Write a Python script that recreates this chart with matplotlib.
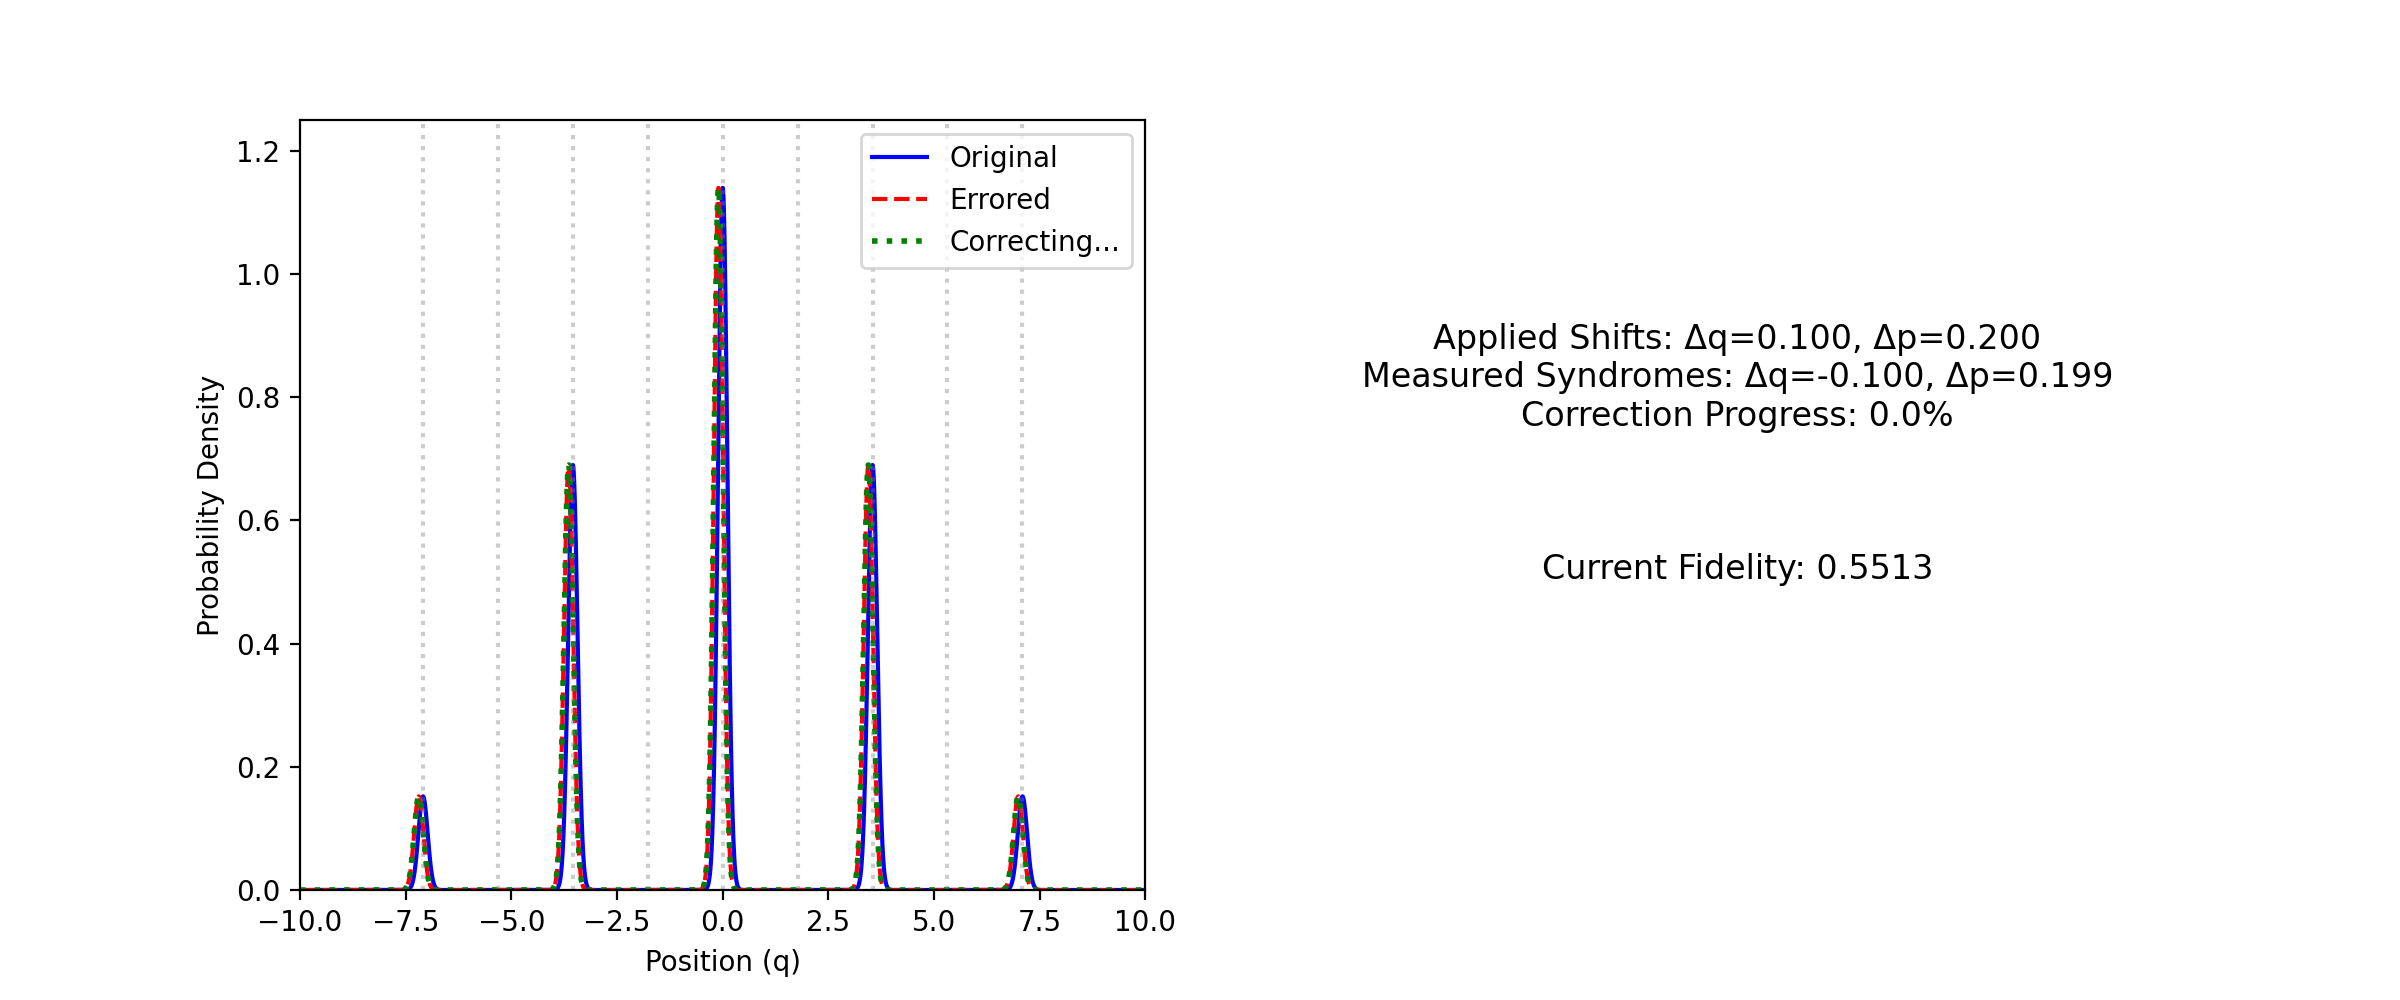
import numpy as np
import matplotlib
matplotlib.use("Agg")
import matplotlib.pyplot as plt

# data
peak_positions = [-7.090, -3.545, 0.0, 3.545, 7.090]
peak_heights = [0.152, 0.690, 1.140, 0.690, 0.152]
peak_sigma = 0.11
error_shift = -0.10
grid_lines = [-7.090, -5.317, -3.545, -1.772, 0.0, 1.772, 3.545, 5.317, 7.090]
info_lines = ["Applied Shifts: Δq=0.100, Δp=0.200",
              "Measured Syndromes: Δq=-0.100, Δp=0.199",
              "Correction Progress: 0.0%"]
fidelity_text = "Current Fidelity: 0.5513"

q = np.linspace(-10, 10, 4000)
def curve(shift):
    y = np.zeros_like(q)
    for p, h in zip(peak_positions, peak_heights):
        y += h * np.exp(-(q - p - shift) ** 2 / (2 * peak_sigma ** 2))
    return y

fig = plt.figure(figsize=(12, 5), dpi=200)
ax = fig.add_subplot(1, 2, 1)
ax.plot(q, curve(0), color='blue', lw=1.5, label='Original')
ax.plot(q, curve(error_shift), color='red', lw=1.5, ls='--', label='Errored')
ax.plot(q, curve(error_shift), color='green', lw=2, ls=':', label='Correcting...')
for g in grid_lines:
    ax.axvline(g, color='gray', ls=':', alpha=0.4)
ax.set_xlim(-10, 10)
ax.set_ylim(0, 1.25)
ax.set_xlabel('Position (q)')
ax.set_ylabel('Probability Density')
ax.legend(loc='upper right')

ax2 = fig.add_subplot(1, 2, 2)
ax2.axis('off')
ax2.text(0.5, 0.665, "\n".join(info_lines), ha='center', va='center', fontsize=12, transform=ax2.transAxes)
ax2.text(0.5, 0.416, fidelity_text, ha='center', va='center', fontsize=12, transform=ax2.transAxes)

fig.savefig('out.png', dpi=200)
